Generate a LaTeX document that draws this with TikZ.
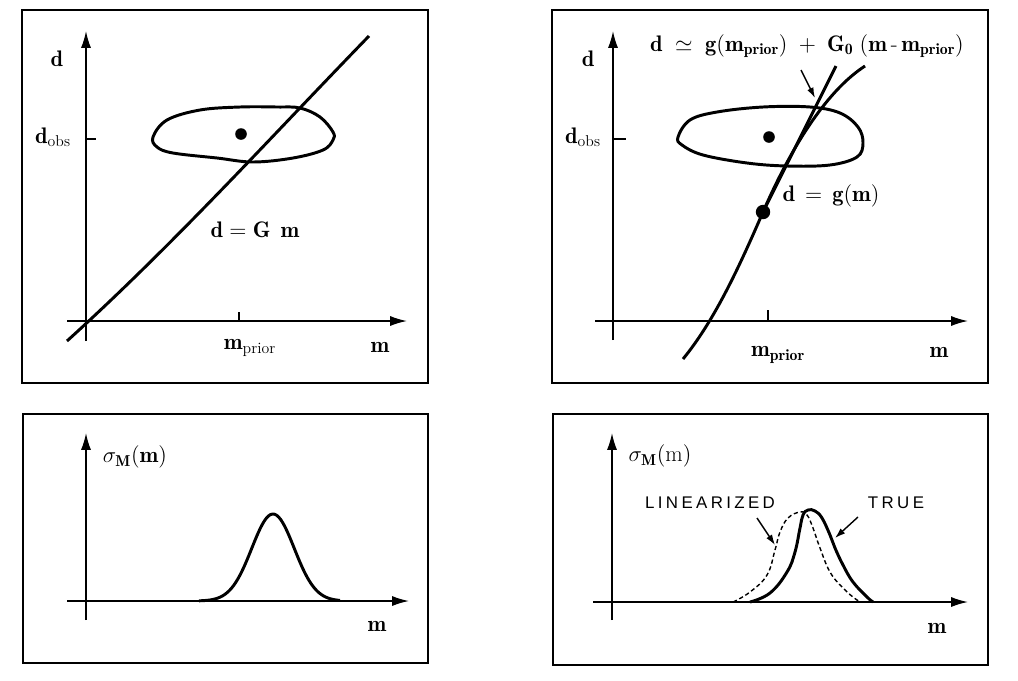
\documentclass[tikz,border=0pt]{standalone}
\usepackage{fix-cm}
\usepackage{fontspec}
\newfontfamily\capsfont[LetterSpace=20]{Liberation Sans}
\usetikzlibrary{arrows.meta}

\tikzset{
  axis/.style    ={line width=1.1pt, -{Latex[length=4.2mm, width=2.5mm]}},
  curve/.style   ={line width=2.1pt},
  frame/.style   ={line width=1.3pt},
  tickmark/.style={line width=2pt},
  pointer/.style ={line width=1pt, -{Latex[length=2.6mm, width=1.7mm]}},
  lbl/.style     ={font=\fontsize{16}{19}\selectfont, inner sep=0pt},
  caps/.style    ={font=\capsfont\fontsize{12}{14}\selectfont, inner sep=0pt},
  dot/.style     ={circle, fill=black, inner sep=0pt, minimum size=#1},
  dot/.default   =0.28cm,
}

\begin{document}
\begin{tikzpicture}[x=0.025cm, y=-0.025cm]
\useasboundingbox (0,0) rectangle (1018,680);

% frames
\draw [frame] (22,10)  rectangle (428,383);
\draw [frame] (552,10) rectangle (988,383);
\draw [frame] (23,414) rectangle (428,663);
\draw [frame] (553,414) rectangle (988,665);

%%%%%%%% top left: linear problem
\coordinate (tlx0) at (67,321);   \coordinate (tlx1) at (407,321);
\coordinate (tly0) at (86,341);   \coordinate (tly1) at (86,31);
\draw [axis] (tlx0) -- (tlx1);
\draw [axis] (tly0) -- (tly1);
% ticks
\coordinate (tlmp) at (239,321);
\coordinate (tldo) at (86,139);
\draw [tickmark] (tlmp) -- ++(0,-9);
\draw [tickmark] (tldo) -- ++(10,0);
% region of data
\draw [curve] plot [smooth cycle, tension=0.6] coordinates
  {(153,137) (167,120) (200,110) (240,107) (277,107) (300,108) (320,117) (333,132)
   (333,140) (323,150) (293,158) (253,162) (217,158) (173,153) (157,147)};
\node [dot=0.29cm] (tlobs) at (241,134) {};
% d = G m
\coordinate (tlg0) at (67,341);  \coordinate (tlg1) at (369,36);
\draw [curve] (tlg0) .. controls (175,243) and (270,138) .. (tlg1);
% labels
\node [lbl] (tld)   at (57,59)   {$\mathbf{d}$};
\node [lbl] (tldob) at (53,137)  {$\mathbf{d}_{\mathrm{obs}}$};
\node [lbl] (tlmpr) at (250,348) {$\mathbf{m}_{\mathrm{prior}}$};
\node [lbl] (tlm)   at (380,347) {$\mathbf{m}$};
\node [lbl] (tleq)  at (255,230) {$\mathbf{d} = \mathbf{G}\;\, \mathbf{m}$};

%%%%%%%% top right: nonlinear problem
\coordinate (trx0) at (595,321);  \coordinate (trx1) at (968,321);
\coordinate (try0) at (613,340);  \coordinate (try1) at (613,31);
\draw [axis] (trx0) -- (trx1);
\draw [axis] (try0) -- (try1);
% ticks
\coordinate (trmp) at (768,321);
\coordinate (trdo) at (613,139);
\draw [tickmark] (trmp) -- ++(0,-11);
\draw [tickmark] (trdo) -- ++(13,0);
% region of data
\draw [curve] plot [smooth cycle, tension=0.6] coordinates
  {(678,137) (690,120) (717,112) (763,107) (810,107) (840,113) (858,127) (863,143)
   (857,157) (830,165) (787,166) (747,163) (703,155) (682,145)};
\node [dot=0.29cm] (trobs) at (769,137) {};
% d = g(m)
\node [dot=0.36cm] (trmpd) at (763,212) {};
\coordinate (trg0) at (683,359);  \coordinate (trg1) at (865,66);
\draw [curve] (trg0) .. controls (715,320) and (740,265) .. (trmpd.center)
                     .. controls (790,150) and (825,92) .. (trg1);
% tangent
\coordinate (tanend) at (836,66);
\draw [curve] (trmpd.center) -- (tanend);
% labels
\node [lbl] (trd)   at (588,59)  {$\mathbf{d}$};
\node [lbl] (trdob) at (583,137) {$\mathbf{d}_{\mathrm{obs}}$};
\node [lbl] (trmpr) at (778,355) {$\mathbf{m}_{\mathbf{prior}}$};
\node [lbl] (trm)   at (939,352) {$\mathbf{m}$};
\node [lbl] (treq)  at (831,196) {$\mathbf{d} \,=\, \mathbf{g}(\mathbf{m})$};
\node [lbl] (trlin) at (807,46)
  {$\mathbf{d} \;\simeq\; \mathbf{g}(\mathbf{m}_{\mathbf{prior}}) \;+\; \mathbf{G}_{\mathbf{0}}\;
    (\mathbf{m}\,\mbox{-}\,\mathbf{m}_{\mathbf{prior}})$};
\coordinate (trptail) at (801,70);
\coordinate (trphead) at (815,98);
\draw [pointer] (trptail) -- (trphead);

%%%%%%%% bottom left: posterior, linear
\coordinate (blx0) at (67,601);   \coordinate (blx1) at (409,601);
\coordinate (bly0) at (86,620);   \coordinate (bly1) at (86,433);
\draw [axis] (blx0) -- (blx1);
\draw [axis] (bly0) -- (bly1);
\draw [curve] plot [domain=199:340, samples=70] (\x, {601-87*exp(-((\x-273)/30)^2)});
\node [lbl] (blsig) at (135,457) {$\sigma_{\mathbf{M}}(\mathbf{m})$};
\node [lbl] (blm)   at (377,626) {$\mathbf{m}$};

%%%%%%%% bottom right: posterior, nonlinear
\coordinate (brx0) at (593,602);  \coordinate (brx1) at (968,602);
\coordinate (bry0) at (612,620);  \coordinate (bry1) at (612,433);
\draw [axis] (brx0) -- (brx1);
\draw [axis] (bry0) -- (bry1);
% true
\draw [curve] plot [smooth, tension=0.7] coordinates
  {(750,602) (770,593) (787,572) (795,552) (800,528) (803,515) (808,510) (815,511)
   (822,518) (830,535) (835,548) (843,565) (853,582) (867,597) (873,602)};
% linearized
\draw [line width=1pt, dash pattern=on 3pt off 2pt] plot [smooth, tension=0.7] coordinates
  {(733,602) (750,592) (767,575) (775,550) (780,532) (788,518) (800,512) (807,515)
   (813,528) (820,548) (830,572) (843,588) (857,600) (863,602)};
\node [lbl] (brsig) at (660,456) {$\sigma_{\mathbf{M}}(\mathrm{m})$};
\node [lbl] (brm)   at (937,628) {$\mathbf{m}$};
\node [caps] (brlin)  at (710,503) {LINEARIZED};
\node [caps] (brtrue) at (896,503) {TRUE};
\coordinate (lintail) at (757,518);   \coordinate (linhead) at (775,545);
\coordinate (truetail) at (858,517);  \coordinate (truehead) at (835,538);
\draw [pointer] (lintail) -- (linhead);
\draw [pointer] (truetail) -- (truehead);

\end{tikzpicture}
\end{document}
